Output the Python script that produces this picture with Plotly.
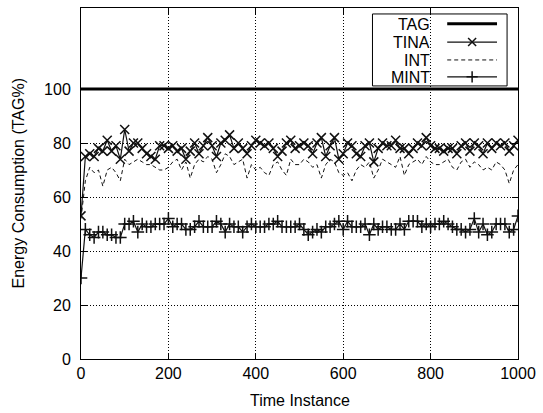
import plotly.graph_objects as go

time = list(range(0, 1001, 10))

tag = [100] * len(time)

tina = [53, 75, 76, 75, 78, 77, 81, 77, 79, 74,
        85, 77, 80, 80, 78, 76, 75, 74, 79, 79,
        78, 79, 77, 78, 74, 77, 80, 76, 79, 82,
        79, 75, 80, 81, 83, 78, 80, 78, 76, 79,
        81, 80, 79, 80, 78, 75, 77, 80, 81, 78,
        79, 80, 79, 76, 80, 82, 75, 79, 82, 74,
        76, 80, 79, 76, 75, 79, 80, 73, 78, 80,
        79, 79, 81, 78, 78, 76, 78, 80, 79, 82,
        79, 78, 78, 77, 78, 78, 76, 79, 80, 77,
        80, 79, 76, 80, 78, 80, 79, 80, 77, 79,
        81]

intv = [52, 66, 71, 69, 70, 64, 70, 71, 69, 66,
        74, 72, 73, 74, 73, 72, 72, 71, 70, 70,
        71, 73, 74, 70, 73, 67, 72, 74, 73, 75,
        74, 69, 72, 76, 75, 72, 73, 74, 67, 72,
        70, 71, 69, 68, 72, 73, 70, 68, 74, 72,
        72, 74, 73, 71, 72, 67, 72, 74, 73, 69,
        68, 69, 66, 70, 72, 71, 73, 67, 70, 74,
        73, 72, 71, 75, 68, 72, 73, 74, 72, 75,
        73, 72, 72, 73, 74, 71, 70, 73, 74, 71,
        73, 72, 70, 71, 70, 73, 72, 70, 65, 70,
        72]

mint = [30, 48, 46, 45, 47, 47, 46, 46, 45, 45,
        50, 50, 51, 47, 50, 49, 49, 50, 50, 50,
        52, 49, 50, 50, 48, 48, 49, 51, 49, 49,
        49, 51, 50, 47, 50, 49, 49, 47, 49, 50,
        49, 49, 49, 50, 50, 51, 49, 49, 49, 49,
        50, 48, 46, 47, 48, 47, 49, 49, 50, 51,
        48, 51, 49, 49, 49, 50, 46, 50, 48, 49,
        49, 48, 48, 50, 48, 51, 51, 51, 49, 50,
        49, 50, 50, 51, 50, 49, 48, 48, 47, 48,
        52, 47, 50, 46, 47, 50, 50, 50, 47, 48,
        53]

x_ticks = [0, 200, 400, 600, 800, 1000]
y_ticks = [0, 20, 40, 60, 80, 100]
legend_names = ["TAG", "TINA", "INT", "MINT"]

FONT = "Liberation Sans, Arial, Helvetica, sans-serif"
INK = "#111111"

fig = go.Figure()

fig.add_trace(go.Scatter(x=time, y=intv, mode="lines",
                         line=dict(color=INK, width=1, dash="4px,3px"),
                         showlegend=False))
fig.add_trace(go.Scatter(x=time, y=tina, mode="lines+markers",
                         line=dict(color=INK, width=1.2),
                         marker=dict(symbol="x-thin-open", size=9, color=INK,
                                     line=dict(color=INK, width=1.5)),
                         showlegend=False))
fig.add_trace(go.Scatter(x=time, y=mint, mode="lines+markers",
                         line=dict(color=INK, width=1.2),
                         marker=dict(symbol="cross-thin-open", size=9, color=INK,
                                     line=dict(color=INK, width=1.5)),
                         showlegend=False))
fig.add_trace(go.Scatter(x=time, y=tag, mode="lines",
                         line=dict(color="black", width=3),
                         showlegend=False))

# custom gnuplot-style legend (samples drawn on an overlay axis in paper-like units)
row_y = [0.955, 0.903, 0.852, 0.804]
sx0, sx1, sxm = 0.838, 0.952, 0.895
styles = [
    dict(line=dict(color="black", width=3), mode="lines"),
    dict(line=dict(color=INK, width=1.2), mode="lines"),
    dict(line=dict(color=INK, width=1, dash="4px,3px"), mode="lines"),
    dict(line=dict(color=INK, width=1.2), mode="lines"),
]
markers = [None, "x-thin-open", None, "cross-thin-open"]
for name, yy, st, mk in zip(legend_names, row_y, styles, markers):
    fig.add_trace(go.Scatter(x=[sx0, sx1], y=[yy, yy], xaxis="x2", yaxis="y2",
                             showlegend=False, hoverinfo="skip", **st))
    if mk:
        fig.add_trace(go.Scatter(x=[sxm], y=[yy], xaxis="x2", yaxis="y2",
                                 mode="markers", showlegend=False, hoverinfo="skip",
                                 marker=dict(symbol=mk, size=8, color=INK,
                                             line=dict(color=INK, width=1.5))))
    fig.add_annotation(x=0.80, y=yy, xref="paper", yref="paper", text=name,
                       showarrow=False, xanchor="right", yanchor="middle",
                       height=16, valign="middle", borderpad=0,
                       font=dict(family=FONT, size=16, color="black"))

fig.add_shape(type="rect", xref="paper", yref="paper",
              x0=0.667, x1=0.975, y0=0.778, y1=0.983,
              line=dict(color="black", width=1), fillcolor="white", layer="below")

axis_common = dict(showline=True, linecolor="black", linewidth=1, mirror="ticks",
                   ticks="inside", ticklen=6, tickcolor="black",
                   showgrid=True, gridcolor="black", gridwidth=1, griddash="1px,2px",
                   zeroline=False, tickfont=dict(family=FONT, size=16, color="black"))

fig.update_layout(
    width=543, height=413,
    margin=dict(l=81, r=23, t=7, b=54),
    paper_bgcolor="white", plot_bgcolor="rgba(0,0,0,0)",
    xaxis=dict(range=[0, 1000], tickvals=x_ticks, ticklabelstandoff=0, **axis_common),
    yaxis=dict(range=[0, 130], tickvals=y_ticks, ticklabelstandoff=6, **axis_common),
    xaxis2=dict(overlaying="x", range=[0, 1], visible=False, fixedrange=True),
    yaxis2=dict(overlaying="y", range=[0, 1], visible=False, fixedrange=True),
    font=dict(family=FONT, size=16, color="black"),
)

fig.add_annotation(x=0.5, y=-0.118, xref="paper", yref="paper", text="Time Instance",
                   showarrow=False, xanchor="center", yanchor="middle",
                   font=dict(family=FONT, size=16, color="black"))
fig.add_annotation(x=-0.142, y=0.5, xref="paper", yref="paper",
                   text="Energy Consumption (TAG%)", textangle=-90,
                   showarrow=False, xanchor="center", yanchor="middle",
                   font=dict(family=FONT, size=16, color="black"))

fig.write_html("out.html", config={"displayModeBar": False},
               post_script="document.body.style.margin='0';")
